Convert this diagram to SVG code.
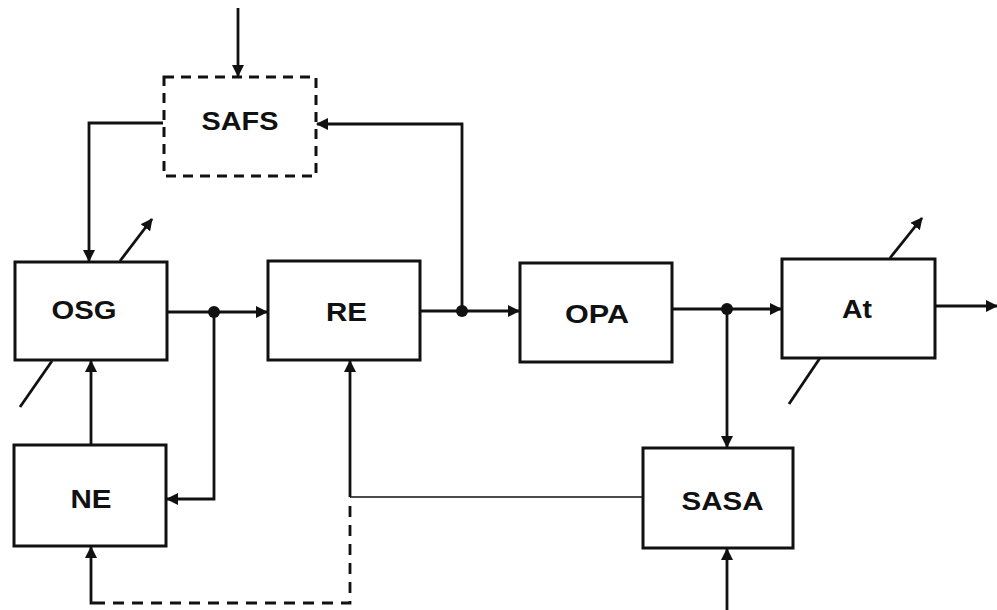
<svg xmlns="http://www.w3.org/2000/svg" width="997" height="610" viewBox="0 0 997 610">
<style>
.box{fill:#fff;stroke:#111;stroke-width:3}
.dash{fill:#fff;stroke:#111;stroke-width:3;stroke-dasharray:10 7}
.lbl{font-family:"Liberation Sans",Arial,sans-serif;font-weight:bold;font-size:25px;fill:#111}
.c{fill:none;stroke:#111;stroke-width:2.8}
.thin{fill:none;stroke:#111;stroke-width:1.6}
.cd{fill:none;stroke:#111;stroke-width:2.8;stroke-dasharray:11 8}
</style>
<defs>
<marker id="ah" markerUnits="userSpaceOnUse" markerWidth="12" markerHeight="12" refX="11" refY="6" orient="auto">
<path d="M0,0 L12,6 L0,12 z" fill="#111"/>
</marker>
</defs>
<rect width="997" height="610" fill="#fff"/>
<g id="connectors">
<path class="c" d="M238,8 V76" marker-end="url(#ah)"/>
<path class="c" d="M163,123 H89 V261" marker-end="url(#ah)"/>
<path class="c" d="M167,312 H267" marker-end="url(#ah)"/>
<path class="c" d="M214,312 V499 H167" marker-end="url(#ah)"/>
<path class="c" d="M91,445 V361" marker-end="url(#ah)"/>
<path class="c" d="M420,311 H519" marker-end="url(#ah)"/>
<path class="c" d="M462,311 V124 H317" marker-end="url(#ah)"/>
<path class="c" d="M672,309 H781" marker-end="url(#ah)"/>
<path class="c" d="M727,309 V447" marker-end="url(#ah)"/>
<path class="c" d="M935,306 H997" marker-end="url(#ah)"/>
<path class="thin" d="M643,497 H350"/>
<path class="c" d="M350,497 V361" marker-end="url(#ah)"/>
<path class="cd" d="M350,506 V603 H98"/>
<path class="c" d="M98,603 H91 V547" marker-end="url(#ah)"/>
<path class="c" d="M727,610 V549" marker-end="url(#ah)"/>
<path class="c" d="M120,261 L152,219" marker-end="url(#ah)"/>
<path class="c" d="M52,361 L20,407"/>
<path class="c" d="M890,258 L922,218" marker-end="url(#ah)"/>
<path class="c" d="M820,358 L789,404"/>
<circle cx="214" cy="312" r="6" fill="#111"/>
<circle cx="462" cy="311" r="6" fill="#111"/>
<circle cx="727" cy="309" r="6" fill="#111"/>
</g>
<g id="SAFS">
<rect class="dash" x="164" y="77" width="152" height="99"/>
<text class="lbl" x="240" y="130" text-anchor="middle" textLength="77" lengthAdjust="spacingAndGlyphs">SAFS</text>
</g>
<g id="OSG">
<rect class="box" x="15" y="262" width="152" height="98"/>
<text class="lbl" x="84" y="319" text-anchor="middle" textLength="65" lengthAdjust="spacingAndGlyphs">OSG</text>
</g>
<g id="RE">
<rect class="box" x="268" y="261" width="152" height="99"/>
<text class="lbl" x="346.5" y="321" text-anchor="middle" textLength="41" lengthAdjust="spacingAndGlyphs">RE</text>
</g>
<g id="OPA">
<rect class="box" x="520" y="263" width="152" height="99"/>
<text class="lbl" x="597" y="323" text-anchor="middle" textLength="64" lengthAdjust="spacingAndGlyphs">OPA</text>
</g>
<g id="At">
<rect class="box" x="782" y="259" width="153" height="99"/>
<text class="lbl" x="857" y="318" text-anchor="middle" textLength="30" lengthAdjust="spacingAndGlyphs">At</text>
</g>
<g id="NE">
<rect class="box" x="14" y="445" width="152" height="101"/>
<text class="lbl" x="91" y="508" text-anchor="middle" textLength="41" lengthAdjust="spacingAndGlyphs">NE</text>
</g>
<g id="SASA">
<rect class="box" x="643" y="448" width="150" height="100"/>
<text class="lbl" x="722.5" y="510" text-anchor="middle" textLength="82" lengthAdjust="spacingAndGlyphs">SASA</text>
</g>
</svg>
